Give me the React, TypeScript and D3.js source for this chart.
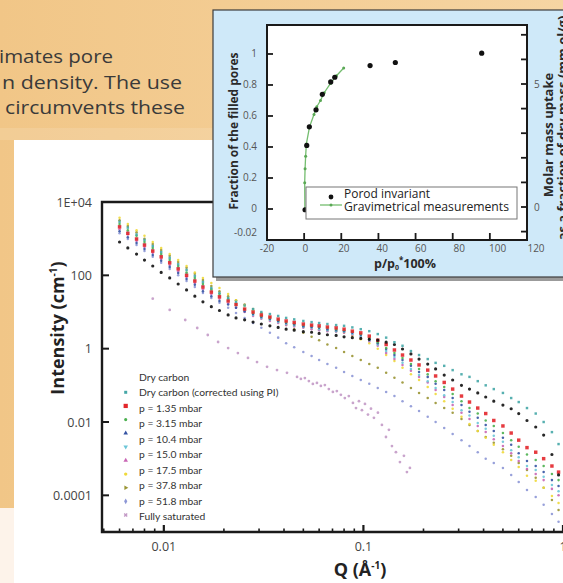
import React, { useEffect, useRef } from 'react'
import * as d3 from 'd3'

// Q grid (1/Å) shared by the SAXS curves
const qValues = [0.006, 0.0066, 0.0073, 0.008, 0.0088, 0.0097, 0.0107, 0.0118, 0.013, 0.0143, 0.0157, 0.0173, 0.019, 0.021, 0.023, 0.0254, 0.028, 0.0308, 0.034, 0.0374, 0.041, 0.045, 0.05, 0.055, 0.06, 0.066, 0.073, 0.08, 0.088, 0.097, 0.107, 0.118, 0.13, 0.143, 0.157, 0.173, 0.19, 0.21, 0.23, 0.254, 0.28, 0.31, 0.34, 0.374, 0.41, 0.45, 0.5, 0.55, 0.6, 0.66, 0.73, 0.8, 0.88, 0.95]

// intensities (1/cm)
const dryCarbon = [810, 560, 380, 260, 180, 120, 85, 58, 40, 27, 19, 14, 11, 8.3, 6.9, 6.1, 5.3, 4.7, 4.2, 3.8, 3.4, 3.2, 2.9, 2.8, 2.6, 2.4, 2.3, 2.1, 2.0, 1.9, 1.8, 1.7, 1.5, 1.3, 0.98, 0.72, 0.52, 0.38, 0.28, 0.19, 0.14, 0.10, 0.079, 0.062, 0.048, 0.037, 0.029, 0.023, 0.017, 0.011, 0.0073, 0.0044, 0.0013, 0.00036]
const dryCorrected = [2900, 2000, 1300, 920, 630, 430, 300, 200, 140, 96, 66, 45, 33, 24, 19, 15, 12, 10, 8.8, 7.8, 6.9, 6.3, 5.7, 5.3, 5.0, 4.7, 4.4, 4.2, 3.8, 3.4, 3.0, 2.5, 2.0, 1.5, 1.2, 0.86, 0.67, 0.52, 0.41, 0.34, 0.26, 0.20, 0.17, 0.13, 0.10, 0.079, 0.062, 0.045, 0.035, 0.024, 0.017, 0.010, 0.0053, 0.0025]
const p135 = [2100, 1400, 980, 670, 460, 320, 220, 150, 100, 70, 48, 35, 26, 20, 16, 12, 10, 8.3, 7.3, 6.4, 5.7, 5.2, 4.7, 4.4, 4.2, 3.9, 3.7, 3.4, 3.0, 2.7, 2.2, 1.7, 1.3, 0.92, 0.67, 0.49, 0.36, 0.26, 0.18, 0.12, 0.079, 0.051, 0.035, 0.024, 0.017, 0.011, 0.0078, 0.0050, 0.0032, 0.0020, 0.0015, 0.0010, 0.00063, 0.00043]
const p315 = [2500, 1700, 1200, 810, 560, 380, 260, 180, 120, 85, 58, 42, 31, 23, 16.5, 12, 9.4, 7.8, 6.9, 6.1, 5.3, 4.9, 4.4, 4.2, 3.9, 3.7, 3.4, 3.2, 2.9, 2.5, 1.95, 1.5, 1.04, 0.76, 0.56, 0.38, 0.28, 0.20, 0.13, 0.090, 0.058, 0.037, 0.024, 0.017, 0.011, 0.0078, 0.0050, 0.0032, 0.0021, 0.0013, 0.00092, 0.00063, 0.00038, 0.00026]
const p104 = [1600, 1100, 760, 520, 360, 250, 170, 116, 79, 55, 37, 27, 20, 16, 13, 10.3, 8.8, 7.3, 6.4, 5.7, 5.0, 4.6, 4.1, 3.9, 3.7, 3.4, 3.2, 3.0, 2.7, 2.4, 1.8, 1.4, 0.98, 0.67, 0.49, 0.34, 0.23, 0.17, 0.11, 0.075, 0.045, 0.029, 0.019, 0.013, 0.0083, 0.0057, 0.0037, 0.0024, 0.0014, 0.00086, 0.00063, 0.00043, 0.00026, 0.00018]
const p150 = [2200, 1500, 1000, 710, 490, 340, 230, 160, 110, 75, 51, 37, 27, 20, 15, 11, 8.3, 6.9, 6.1, 5.3, 4.7, 4.3, 3.9, 3.7, 3.4, 3.2, 3.0, 2.9, 2.5, 2.2, 1.7, 1.3, 0.86, 0.59, 0.41, 0.28, 0.19, 0.13, 0.085, 0.054, 0.035, 0.021, 0.015, 0.0094, 0.0065, 0.0042, 0.0029, 0.0017, 0.0011, 0.00063, 0.00049, 0.00032, 0.00019, 0.00013]
const p175 = [1800, 1300, 860, 590, 410, 280, 190, 130, 90, 62, 42, 31, 23, 17, 13, 10, 7.8, 6.5, 5.7, 5.0, 4.4, 4.0, 3.7, 3.4, 3.2, 3.0, 2.9, 2.7, 2.4, 2.1, 1.6, 1.2, 0.76, 0.52, 0.36, 0.25, 0.17, 0.12, 0.075, 0.048, 0.029, 0.018, 0.012, 0.0078, 0.0053, 0.0034, 0.0022, 0.0014, 0.00086, 0.00052, 0.00038, 0.00026, 0.00015, 0.0001]
const p378 = [3700, 2500, 1700, 1200, 810, 560, 380, 260, 180, 120, 85, 62, 45, 31, 21, 15, 11, 7.8, 6.1, 5.3, 4.7, 4.3, 3.9, 3.7, 3.4, 3.2, 3.0, 2.7, 2.2, 1.8, 1.4, 1.0, 0.67, 0.46, 0.30, 0.20, 0.14, 0.090, 0.058, 0.037, 0.023, 0.014, 0.0088, 0.0057, 0.0037, 0.0024, 0.0015, 0.00092, 0.00059, 0.00034, 0.00025, 0.00016, 0.000096, 0.000062]
const p378b = [3200, 2200, 1500, 1000, 720, 490, 340, 230, 160, 110, 75, 51, 37, 27, 21, 16, 12, 9.4, 7.3, 5.7, 4.4, 3.4, 2.7, 2.1, 1.7, 1.3, 1.04, 0.81, 0.63, 0.49, 0.38, 0.30, 0.22, 0.16, 0.12, 0.085, 0.062, 0.045, 0.033, 0.024, 0.018, 0.012, 0.0083, 0.0057, 0.0039, 0.0027, 0.0018, 0.0012, 0.00076, 0.00049, 0.0003, 0.00016, 0.000075, 0.00004]
const p518 = [1400, 980, 670, 460, 320, 220, 150, 100, 70, 48, 33, 24, 18, 13, 9.4, 6.9, 5.0, 3.7, 2.7, 2.0, 1.4, 1.1, 0.81, 0.63, 0.49, 0.38, 0.30, 0.23, 0.18, 0.14, 0.11, 0.085, 0.066, 0.051, 0.037, 0.027, 0.020, 0.014, 0.010, 0.0069, 0.0047, 0.0032, 0.0022, 0.0015, 0.0010, 0.00076, 0.00056, 0.00036, 0.00023, 0.00014, 0.00009, 0.000055, 0.000031, 0.000019]

// fully saturated sample has its own Q points
const satQ = [0.0088, 0.0107, 0.0128, 0.0147, 0.0166, 0.0187, 0.021, 0.0235, 0.0264, 0.0293, 0.0329, 0.0369, 0.0414, 0.0465, 0.0486, 0.0509, 0.0533, 0.0558, 0.0585, 0.0612, 0.0641, 0.0671, 0.0703, 0.0736, 0.0771, 0.0807, 0.0845, 0.0886, 0.0918, 0.095, 0.0983, 0.1018, 0.1054, 0.1091, 0.1129, 0.1182, 0.1238, 0.1297, 0.1342, 0.139, 0.1455, 0.1524, 0.1596, 0.1652, 0.171]
const satI = [23, 11.4, 6.05, 3.66, 2.36, 1.52, 1.04, 0.76, 0.56, 0.43, 0.32, 0.26, 0.22, 0.17, 0.149, 0.158, 0.131, 0.109, 0.116, 0.096, 0.102, 0.079, 0.066, 0.070, 0.055, 0.045, 0.051, 0.033, 0.024, 0.037, 0.021, 0.031, 0.016, 0.023, 0.013, 0.018, 0.0083, 0.0039, 0.0061, 0.0022, 0.0015, 0.00081, 0.0012, 0.00043, 0.00056]

const yTicks = [1e4, 1e2, 1, 1e-2, 1e-4]
const yTickLabels = ['1E+04', '100', '1', '0.01', '0.0001']
const xTickLabels = ['0.01', '0.1', '1']

const legendLabels = ['Dry carbon', 'Dry carbon (corrected using PI)', 'p = 1.35 mbar', 'p = 3.15 mbar', 'p = 10.4 mbar', 'p = 15.0 mbar', 'p = 17.5 mbar', 'p = 37.8 mbar', 'p = 51.8 mbar', 'Fully saturated']

// inset: pore filling vs relative pressure
const porodX = [0.5, 1.4, 2.8, 6.4, 9.8, 14.3, 16.5, 35.5, 49.1, 95.6]
const porodY = [-0.005, 0.41, 0.53, 0.64, 0.74, 0.82, 0.85, 0.925, 0.945, 1.005]
const gravX = [0.4, 0.3, 0.5, 0.8, 1.2, 2.9, 5.3, 6.8, 8.8, 10.8, 14.2, 17.4, 21.3]
const gravY = [0, 0.17, 0.26, 0.34, 0.42, 0.53, 0.61, 0.66, 0.70, 0.75, 0.81, 0.86, 0.91]
const insetXTicks = [-20, 0, 20, 40, 60, 80, 100, 120]
const insetYTicks = [-0.2, 0, 0.2, 0.4, 0.6, 0.8, 1]
const insetYLabels = ['-0.02', '0', '0.2', '0.4', '0.6', '0.8', '1']
const insetRightTicks = [-1, 0, 1, 2, 3, 4, 5, 6, 7]

const font = '"Open Sans", "DejaVu Sans", sans-serif'

const App = () => {
  const svgRef = useRef<SVGSVGElement>(null)

  useEffect(() => {
    const svg = d3.select(svgRef.current)
    svg.selectAll('*').remove()

    // ---- page background
    const defs = svg.append('defs')
    const bg = defs.append('linearGradient').attr('id', 'bg').attr('x1', 0).attr('x2', 1).attr('y1', 0).attr('y2', 0)
    bg.append('stop').attr('offset', 0).attr('stop-color', '#f1c687')
    bg.append('stop').attr('offset', 1).attr('stop-color', '#f6d5a3')
    svg.append('rect').attr('width', 563).attr('height', 583).attr('fill', 'url(#bg)')
    svg.append('rect').attr('x', 0).attr('y', 128).attr('width', 563).attr('height', 12).attr('fill', '#fff').attr('opacity', 0.12)
    svg.append('rect').attr('x', 14).attr('y', 140).attr('width', 549).attr('height', 443).attr('fill', '#fff')
    svg.append('rect').attr('x', 0).attr('y', 508).attr('width', 14).attr('height', 75).attr('fill', '#fdf3ea')

    const para = svg.append('g').attr('font-family', font).attr('font-size', 19).attr('fill', '#3a3a3a')
    para.append('text').attr('x', -1).attr('y', 63).attr('textLength', 114).attr('lengthAdjust', 'spacingAndGlyphs').text('imates pore')
    para.append('text').attr('x', 2).attr('y', 89).attr('textLength', 180).attr('lengthAdjust', 'spacingAndGlyphs').text('n density. The use')
    para.append('text').attr('x', 5).attr('y', 114).attr('textLength', 180).attr('lengthAdjust', 'spacingAndGlyphs').text('circumvents these')

    // ---- main SAXS chart
    const x = d3.scaleLog().domain([0.0049, 1]).range([102, 563])
    const y = d3.scaleLog().domain([1e-5, 1e4]).range([532, 202])

    const series = [
      { q: satQ, v: satI, color: '#c39ac6', size: 6, shape: d3.symbolCircle },
      { q: qValues, v: p518, color: '#8d97d6', size: 5, shape: d3.symbolCircle },
      { q: qValues, v: p378b, color: '#9a9534', size: 5, shape: d3.symbolCircle },
      { q: qValues, v: p378, color: '#efd93a', size: 5, shape: d3.symbolCircle },
      { q: qValues, v: p175, color: '#c966b5', size: 5, shape: d3.symbolCircle },
      { q: qValues, v: p150, color: '#6cc6d8', size: 5, shape: d3.symbolCircle },
      { q: qValues, v: p104, color: '#3453a3', size: 5, shape: d3.symbolCircle },
      { q: qValues, v: p315, color: '#4bb04f', size: 5, shape: d3.symbolCircle },
      { q: qValues, v: p135, color: '#e3262b', size: 12, shape: d3.symbolSquare },
      { q: qValues, v: dryCarbon, color: '#111', size: 8, shape: d3.symbolCircle },
      { q: qValues, v: dryCorrected, color: '#45a7a7', size: 6, shape: d3.symbolSquare },
    ]

    const plot = svg.append('g')
    series.forEach(s => {
      const pts = s.q.map((q, i) => [q, s.v[i]]).filter(d => d[1] != null && d[1] > 0)
      plot.append('g').selectAll('path').data(pts).join('path')
        .attr('d', d3.symbol().type(s.shape).size(s.size)())
        .attr('transform', d => `translate(${x(d[0])},${y(d[1])})`)
        .attr('fill', s.color)
        .attr('opacity', 0.9)
    })

    // frame (right side runs past the picture)
    svg.append('path')
      .attr('d', `M600,${y(1e4)}H${x(0.0049)}V${y(1e-5)}H600`)
      .attr('fill', 'none').attr('stroke', '#1a1a1a').attr('stroke-width', 2.4)

    const xt = x.ticks()
    const isMajor = (v: number) => Math.abs(Math.log10(v) - Math.round(Math.log10(v))) < 1e-6
    svg.append('g').selectAll('line').data(xt).join('line')
      .attr('x1', d => x(d)).attr('x2', d => x(d))
      .attr('y1', y(1e-5)).attr('y2', d => y(1e-5) - (isMajor(d) ? 7 : 3.5))
      .attr('stroke', '#1a1a1a').attr('stroke-width', d => (isMajor(d) ? 2.2 : 1.6))
    svg.append('g').selectAll('line').data(yTicks).join('line')
      .attr('x1', x(0.0049)).attr('x2', x(0.0049) + 7)
      .attr('y1', d => y(d)).attr('y2', d => y(d))
      .attr('stroke', '#1a1a1a').attr('stroke-width', 2)

    const tickText = svg.append('g').attr('font-family', font).attr('font-size', 12.5).attr('fill', '#444')
    tickText.selectAll('text.yl').data(yTicks).join('text').attr('class', 'yl')
      .attr('x', 92).attr('y', d => y(d) + 4.5).attr('text-anchor', 'end')
      .text((d, i) => yTickLabels[i])
    tickText.selectAll('text.xl').data([0.01, 0.1, 1]).join('text').attr('class', 'xl')
      .attr('x', d => x(d)).attr('y', 551).attr('text-anchor', 'middle')
      .text((d, i) => xTickLabels[i])

    const yTitle = svg.append('text').attr('font-family', font).attr('font-weight', 700).attr('font-size', 18)
      .attr('fill', '#222').attr('text-anchor', 'middle').attr('transform', 'translate(64,328) rotate(-90)')
    yTitle.append('tspan').text('Intensity (cm')
    yTitle.append('tspan').attr('font-size', 10).attr('dy', -7).text('-1')
    yTitle.append('tspan').attr('dy', 7).text(')')

    const xTitle = svg.append('text').attr('font-family', font).attr('font-weight', 700).attr('font-size', 18)
      .attr('fill', '#222').attr('text-anchor', 'middle').attr('x', 360).attr('y', 576)
    xTitle.append('tspan').text('Q (Å')
    xTitle.append('tspan').attr('font-size', 10).attr('dy', -7).text('-1')
    xTitle.append('tspan').attr('dy', 7).text(')')

    // legend
    const legendSymbols = [
      { color: '#45a7a7', shape: d3.symbolSquare, size: 9, rot: 0 },
      { color: '#e3262b', shape: d3.symbolSquare, size: 18, rot: 0 },
      { color: '#4bb04f', shape: d3.symbolCircle, size: 8, rot: 0 },
      { color: '#3453a3', shape: d3.symbolTriangle, size: 9, rot: 0 },
      { color: '#6cc6d8', shape: d3.symbolTriangle, size: 9, rot: 180 },
      { color: '#c966b5', shape: d3.symbolTriangle, size: 9, rot: 0 },
      { color: '#efd93a', shape: d3.symbolCircle, size: 9, rot: 0 },
      { color: '#9a9534', shape: d3.symbolTriangle, size: 9, rot: 90 },
      { color: '#8d97d6', shape: d3.symbolDiamond, size: 9, rot: 0 },
      { color: '#c39ac6', shape: d3.symbolCross, size: 10, rot: 45 },
    ]
    const legend = svg.append('g')
    legend.selectAll('path').data(legendSymbols).join('path')
      .attr('d', d => d3.symbol().type(d.shape).size(d.size)())
      .attr('transform', (d, i) => `translate(125.7,${392.3 + i * 13.63}) rotate(${d.rot})`)
      .attr('fill', d => d.color)
    legend.selectAll('text').data(legendLabels).join('text')
      .attr('x', 139).attr('y', (d, i) => 381 + i * 15.49)
      .attr('font-family', 'Lato, "Open Sans", sans-serif').attr('font-size', 10.3).attr('fill', '#333')
      .text(d => d)

    // ---- inset
    const inset = svg.append('g')
    inset.append('rect').attr('x', 216).attr('y', 13).attr('width', 360).attr('height', 268).attr('fill', '#9b9b9b')
    inset.append('rect').attr('x', 213).attr('y', 10).attr('width', 360).attr('height', 267)
      .attr('fill', '#cfe9f9').attr('stroke', '#3d3d3d').attr('stroke-width', 1.2)

    const ix = d3.scaleLinear().domain([-20, 120]).range([267, 527])
    const ixLabel = d3.scaleLinear().domain([-20, 120]).range([267, 536])
    const iy = d3.scaleLinear().domain([-0.2, 1.187]).range([240, 25])
    const iyR = d3.scaleLinear().domain([0, 5]).range([207, 84])

    inset.append('rect').attr('x', ix(-20)).attr('y', iy(1.187)).attr('width', ix(120) - ix(-20)).attr('height', iy(-0.2) - iy(1.187))
      .attr('fill', '#fff').attr('stroke', '#1a1a1a').attr('stroke-width', 2)

    inset.append('g').selectAll('line').data(insetYTicks.slice(1)).join('line')
      .attr('x1', ix(-20)).attr('x2', ix(-20) + 6).attr('y1', d => iy(d)).attr('y2', d => iy(d))
      .attr('stroke', '#1a1a1a').attr('stroke-width', 1.8)
    inset.append('g').selectAll('line').data(insetXTicks.slice(1, -1)).join('line')
      .attr('x1', d => ix(d)).attr('x2', d => ix(d)).attr('y1', iy(-0.2)).attr('y2', iy(-0.2) - 7)
      .attr('stroke', '#1a1a1a').attr('stroke-width', 1.8)
    inset.append('g').selectAll('line').data(insetRightTicks).join('line')
      .attr('x1', ix(120)).attr('x2', ix(120) - 6).attr('y1', d => iyR(d)).attr('y2', d => iyR(d))
      .attr('stroke', '#1a1a1a').attr('stroke-width', 1.8)

    const itext = inset.append('g').attr('font-family', font).attr('font-size', 10).attr('fill', '#555')
    itext.selectAll('text.l').data(insetYTicks).join('text').attr('class', 'l')
      .attr('x', 257).attr('y', (d, i) => iy(d) + (i === 0 ? -4 : 3.5)).attr('text-anchor', 'end')
      .text((d, i) => insetYLabels[i])
    itext.selectAll('text.b').data(insetXTicks).join('text').attr('class', 'b')
      .attr('x', d => ixLabel(d)).attr('y', 252).attr('text-anchor', 'middle')
      .text(d => String(d))
    itext.selectAll('text.r').data([0, 5]).join('text').attr('class', 'r')
      .attr('x', 534).attr('y', d => iyR(d) + 3.5)
      .text(d => String(d))

    const grav = inset.append('g')
    grav.append('path')
      .attr('d', d3.line<number>().x((d, i) => ix(gravX[i])).y(d => iy(d))(gravY) || '')
      .attr('fill', 'none').attr('stroke', '#74bd6f').attr('stroke-width', 1.3)
    grav.selectAll('circle').data(gravY).join('circle')
      .attr('cx', (d, i) => ix(gravX[i])).attr('cy', d => iy(d)).attr('r', 1.5).attr('fill', '#5aa855')
    inset.append('g').selectAll('circle').data(porodY).join('circle')
      .attr('cx', (d, i) => ix(porodX[i])).attr('cy', d => iy(d)).attr('r', 2.6).attr('fill', '#111')

    // inset legend
    inset.append('rect').attr('x', 306).attr('y', 187).attr('width', 211).attr('height', 32)
      .attr('fill', '#fff').attr('stroke', '#777').attr('stroke-width', 1)
    inset.append('circle').attr('cx', 331).attr('cy', 197).attr('r', 2.4).attr('fill', '#111')
    inset.append('line').attr('x1', 320).attr('x2', 342).attr('y1', 205).attr('y2', 205).attr('stroke', '#74bd6f').attr('stroke-width', 1.3)
    inset.append('circle').attr('cx', 331).attr('cy', 205).attr('r', 1.5).attr('fill', '#5aa855')
    const ileg = inset.append('g').attr('font-family', font).attr('font-size', 12.5).attr('font-weight', 500).attr('fill', '#222')
    ileg.append('text').attr('x', 344).attr('y', 198).attr('textLength', 86).attr('lengthAdjust', 'spacingAndGlyphs').text('Porod invariant')
    ileg.append('text').attr('x', 344).attr('y', 211).attr('textLength', 165).attr('lengthAdjust', 'spacingAndGlyphs').text('Gravimetrical measurements')

    const ititle = inset.append('g').attr('font-family', font).attr('font-weight', 700).attr('fill', '#2a2a2a')
    ititle.append('text').attr('font-size', 12).attr('text-anchor', 'middle')
      .attr('transform', 'translate(238,131) rotate(-90)').attr('textLength', 157).attr('lengthAdjust', 'spacingAndGlyphs')
      .text('Fraction of the filled pores')
    const px = ititle.append('text').attr('font-size', 12.5).attr('text-anchor', 'middle').attr('x', 405).attr('y', 268)
    px.append('tspan').text('p/p')
    px.append('tspan').attr('font-size', 7).attr('dy', 2).text('0')
    px.append('tspan').attr('font-size', 8).attr('dy', -7).text('*')
    px.append('tspan').attr('dy', 5).text('100%')
    ititle.append('text').attr('font-size', 13).attr('text-anchor', 'middle')
      .attr('transform', 'translate(553,135) rotate(-90)').text('Molar mass uptake')
    ititle.append('text').attr('font-size', 13).attr('text-anchor', 'middle')
      .attr('transform', 'translate(567,128) rotate(-90)').text('as a fraction of dry mass (mm ol/g)')
  }, [])

  return (
    <svg ref={svgRef} width={563} height={583} style={{ position: 'absolute', left: 0, top: 0 }} />
  )
}

export default App
